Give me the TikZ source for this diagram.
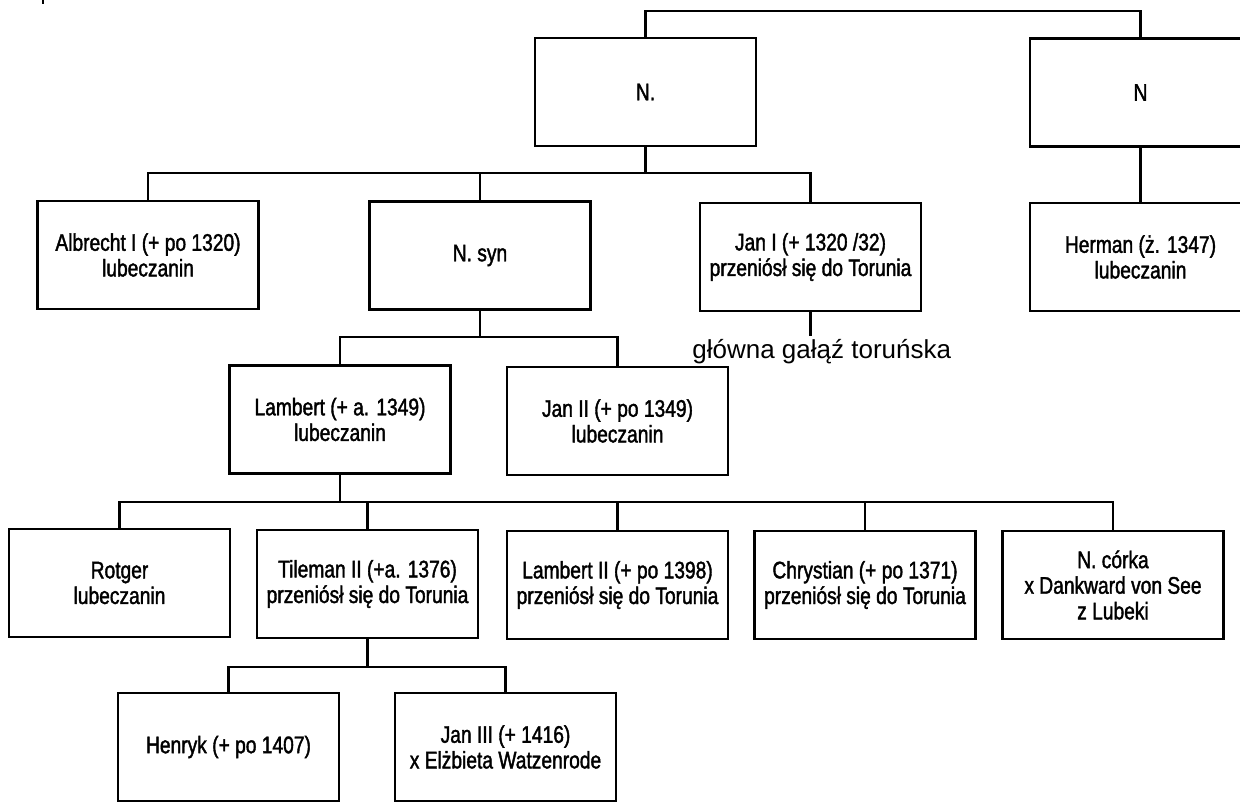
\documentclass[tikz,border=0pt]{standalone}
\usepackage{fontspec}
\setmainfont{Liberation Sans}
\newfontfamily\boxfont[FakeStretch=0.8,FakeBold=1.6]{Liberation Sans}
\begin{document}
\begin{tikzpicture}[x=0.5pt,y=-0.5pt]
\tikzset{
  person/.style={draw, line width=1.25pt, minimum width=110.5pt, minimum height=54pt,
    inner sep=0pt, align=center, font=\boxfont\fontsize{12}{12.8}\selectfont},
  link/.style={line width=1.1pt},
}
\useasboundingbox (0,0) rectangle (1240,803);
\clip (0,0) rectangle (1240,803);
% bar levels
\coordinate (b0) at (0,11);
\coordinate (b1) at (0,173);
\coordinate (b2) at (0,337);
\coordinate (b3) at (0,502);
\coordinate (b4) at (0,667);
% nodes
\node[person] (N1) at (645.5,92) {N.};
\node[person] (N2) at (1140.5,92.5) {N};
\node[person] (albrecht) at (148,255) {Albrecht I (+ po 1320)\\lubeczanin};
\node[person] (nsyn) at (480,255.5) {N. syn};
\node[person] (jan1) at (810.5,257) {Jan I (+ 1320 /32)\\przeniósł się do Torunia};
\node[person] (herman) at (1140.5,257) {Herman (ż. 1347)\\lubeczanin};
\node[person] (lambert) at (340,419.5) {Lambert (+ a. 1349)\\lubeczanin};
\node[person] (jan2) at (617.5,421) {Jan II (+ po 1349)\\lubeczanin};
\node[person] (rotger) at (119.5,583) {Rotger\\lubeczanin};
\node[person] (tileman) at (367.5,584) {Tileman II (+a. 1376)\\przeniósł się do Torunia};
\node[person] (lambert2) at (617.5,585) {Lambert II (+ po 1398)\\przeniósł się do Torunia};
\node[person] (chrystian) at (865,585) {Chrystian (+ po 1371)\\przeniósł się do Torunia};
\node[person] (ncorka) at (1113,585) {N. córka\\x Dankward von See\\z Lubeki};
\node[person] (henryk) at (228.5,747) {Henryk (+ po 1407)};
\node[person] (jan3) at (505.5,747) {Jan III (+ 1416)\\x Elżbieta Watzenrode};
\node[anchor=base west, inner sep=1pt, font=\fontsize{13}{14}\selectfont] (glowna) at (690,358) {główna gałąź toruńska};
% connectors
\draw[link] (N1.north) |- (N2.north |- b0) -- (N2.north);
\draw[link] (N1.south) -- (N1.south |- b1);
\draw[link] (albrecht.north) |- (jan1.north |- b1) -- (jan1.north);
\draw[link] (nsyn.north) -- (nsyn.north |- b1);
\draw[link] (N2.south) -- (herman.north);
\draw[link] (jan1.south) -- (jan1.south |- glowna.north);
\draw[link] (nsyn.south) -- (nsyn.south |- b2);
\draw[link] (lambert.north) |- (jan2.north |- b2) -- (jan2.north);
\draw[link] (lambert.south) -- (lambert.south |- b3);
\draw[link] (rotger.north) |- (ncorka.north |- b3) -- (ncorka.north);
\draw[link] (tileman.north) -- (tileman.north |- b3);
\draw[link] (lambert2.north) -- (lambert2.north |- b3);
\draw[link] (chrystian.north) -- (chrystian.north |- b3);
\draw[link] (tileman.south) -- (tileman.south |- b4);
\draw[link] (henryk.north) |- (jan3.north |- b4) -- (jan3.north);
% small scan mark
\draw[line width=1pt] (43,0) -- (43,4);
\end{tikzpicture}
\end{document}
